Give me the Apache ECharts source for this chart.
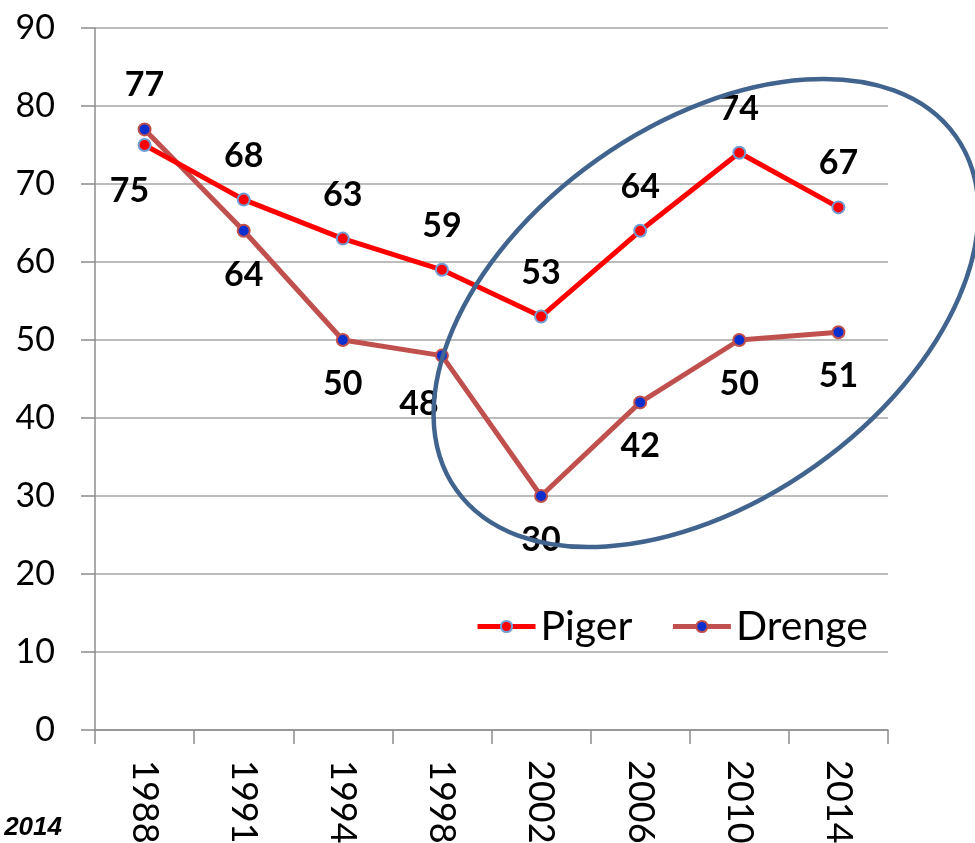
<!DOCTYPE html>
<html>
<head>
<meta charset="utf-8">
<script src="https://cdn.jsdelivr.net/npm/echarts@6/dist/echarts.min.js"></script>
<style>
  html, body { margin: 0; padding: 0; background: #fff; }
  #chart { width: 975px; height: 843px; }
</style>
</head>
<body>
<div id="chart"></div>
<script>
const years = ['1988', '1991', '1994', '1998', '2002', '2006', '2010', '2014']
const piger = [75, 68, 63, 59, 53, 64, 74, 67]
const drenge = [77, 64, 50, 48, 30, 42, 50, 51]
const yTicks = [0, 10, 20, 30, 40, 50, 60, 70, 80, 90]

const FONT = 'Lato, "Open Sans", sans-serif'

// label placement per point: most go above (piger) / below (drenge)
const pigerLabelPos = { 0: { position: 'bottom', offset: [-15, 2] } }
const drengeLabelPos = { 0: { position: 'top' }, 3: { position: 'bottom', offset: [-23, 4] } }

function buildData(values, defPos, overrides) {
  return values.map((v, i) => {
    const o = overrides[i] || {}
    return {
      value: v,
      label: {
        position: o.position || defPos,
        offset: o.offset || [0, 0]
      }
    }
  })
}

const chart = echarts.init(document.getElementById('chart'))

chart.setOption({
  backgroundColor: '#fff',
  animation: false,
  grid: {
    left: 95,
    right: 87,
    top: 28,
    bottom: 113,
    containLabel: false,
    outerBoundsMode: 'none'
  },
  legend: {
    left: 470,
    top: 601,
    itemWidth: 58,
    itemHeight: 14,
    itemGap: 38,
    textStyle: {
      fontFamily: FONT,
      fontSize: 41,
      color: '#000'
    },
    data: [
      { name: 'Piger', lineStyle: { width: 5 } },
      { name: 'Drenge', lineStyle: { width: 5 } }
    ]
  },
  xAxis: {
    type: 'category',
    boundaryGap: true,
    data: years,
    axisLine: { lineStyle: { color: '#8c8c8c', width: 1.5 } },
    axisTick: { show: true, length: 14, interval: 0, lineStyle: { color: '#8c8c8c', width: 1.5 } },
    axisLabel: {
      rotate: -90,
      margin: 30,
      interval: 0,
      fontFamily: FONT,
      fontSize: 36,
      color: '#000'
    },
    splitLine: { show: false }
  },
  yAxis: {
    type: 'value',
    min: yTicks[0],
    max: yTicks[yTicks.length - 1],
    interval: 10,
    axisLine: { show: true, lineStyle: { color: '#8c8c8c', width: 1.5 } },
    axisTick: { show: true, length: 14, lineStyle: { color: '#8c8c8c', width: 1.5 } },
    axisLabel: {
      margin: 40,
      fontFamily: FONT,
      fontSize: 34,
      color: '#000'
    },
    splitLine: { show: true, lineStyle: { color: '#a6a6a6', width: 1.5 } }
  },
  series: [
    {
      name: 'Piger',
      type: 'line',
      data: buildData(piger, 'top', pigerLabelPos),
      symbol: 'circle',
      symbolSize: 12,
      lineStyle: { color: '#ff0000', width: 5 },
      itemStyle: { color: '#ff0000', borderColor: '#6f9fd6', borderWidth: 2 },
      label: {
        show: true,
        distance: 20,
        fontFamily: FONT,
        fontWeight: 'bold',
        fontSize: 34,
        color: '#000'
      },
      z: 3
    },
    {
      name: 'Drenge',
      type: 'line',
      data: buildData(drenge, 'bottom', drengeLabelPos),
      symbol: 'circle',
      symbolSize: 12,
      lineStyle: { color: '#c0504d', width: 5 },
      itemStyle: { color: '#0a2fcf', borderColor: '#c0504d', borderWidth: 2 },
      label: {
        show: true,
        distance: 20,
        fontFamily: FONT,
        fontWeight: 'bold',
        fontSize: 34,
        color: '#000'
      },
      z: 2
    }
  ],
  graphic: [
    {
      type: 'ellipse',
      x: 706,
      y: 313,
      rotation: 0.616,
      shape: { cx: 0, cy: 0, rx: 306, ry: 188 },
      style: { fill: null, stroke: '#41648f', lineWidth: 4.5 },
      z: 10
    },
    {
      type: 'text',
      x: 62,
      y: 841,
      style: {
        text: '2014',
        textAlign: 'right',
        textVerticalAlign: 'bottom',
        font: 'italic bold 26px "Liberation Sans", Arial, sans-serif',
        fill: '#000'
      }
    }
  ]
})
</script>
</body>
</html>
